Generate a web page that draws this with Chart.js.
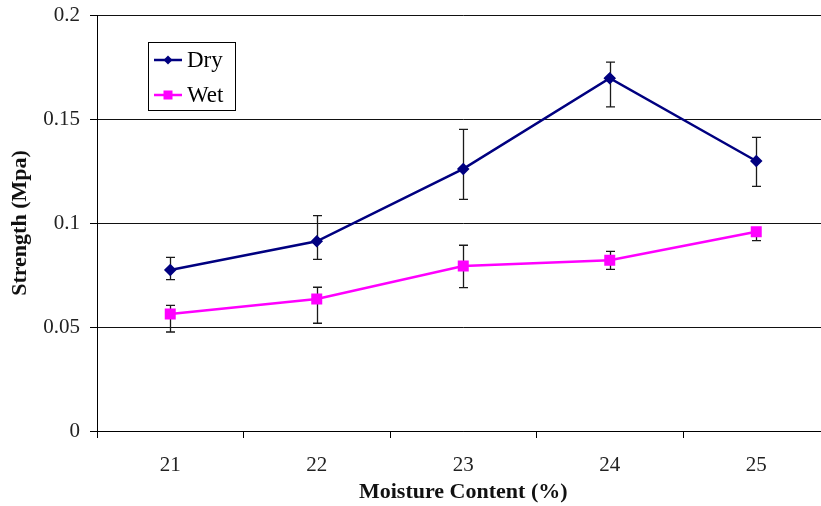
<!DOCTYPE html>
<html>
<head>
<meta charset="utf-8">
<script src="https://cdn.jsdelivr.net/npm/chart.js@4/dist/chart.umd.min.js"></script>
<style>
  html, body { margin: 0; padding: 0; background: #fff; overflow: hidden; }
  #wrap { width: 821px; height: 506px; overflow: hidden; position: relative; }
  canvas { display: block; }
</style>
</head>
<body>
<div id="wrap"><canvas id="c" width="838" height="506"></canvas></div>
<script>
const categories = ['21', '22', '23', '24', '25'];
const dryMean  = [0.0774, 0.0912, 0.1260, 0.1696, 0.1298];
const dryUpper = [0.0835, 0.1035, 0.1450, 0.1773, 0.1412];
const dryLower = [0.0728, 0.0825, 0.1114, 0.1558, 0.1176];
const wetMean  = [0.0563, 0.0635, 0.0793, 0.0821, 0.0958];
const wetUpper = [0.0604, 0.0691, 0.0893, 0.0864, 0.0972];
const wetLower = [0.0476, 0.0518, 0.0689, 0.0777, 0.0915];
const yTicks = [0, 0.05, 0.1, 0.15, 0.2];

const SERIF = '"Liberation Serif", "Times New Roman", serif';

const errorBars = {
  id: 'errorBars',
  beforeDatasetsDraw(chart) {
    const ctx = chart.ctx;
    const x = chart.scales.x, y = chart.scales.y;
    const sets = [[dryUpper, dryLower], [wetUpper, wetLower]];
    ctx.save();
    ctx.strokeStyle = '#1a1a1a';
    ctx.lineWidth = 1.3;
    sets.forEach(([up, lo]) => {
      categories.forEach((c, i) => {
        const px = Math.round(x.getPixelForValue(i)) + 0.5;
        const pu = y.getPixelForValue(up[i]);
        const pl = y.getPixelForValue(lo[i]);
        ctx.beginPath();
        ctx.moveTo(px, pu); ctx.lineTo(px, pl);
        ctx.moveTo(px - 4.5, pu); ctx.lineTo(px + 4.5, pu);
        ctx.moveTo(px - 4.5, pl); ctx.lineTo(px + 4.5, pl);
        ctx.stroke();
      });
    });
    ctx.restore();
  }
};

const boxLegend = {
  id: 'boxLegend',
  afterDraw(chart) {
    const ctx = chart.ctx;
    ctx.save();
    ctx.fillStyle = '#fff';
    ctx.fillRect(148, 42, 88, 69);
    ctx.strokeStyle = '#000';
    ctx.lineWidth = 1;
    ctx.strokeRect(148.5, 42.5, 87, 68);
    const items = [
      { label: chart.data.datasets[0].label, color: '#000080', y: 60, style: 'diamond' },
      { label: chart.data.datasets[1].label, color: '#FF00FF', y: 95, style: 'square' }
    ];
    items.forEach(it => {
      ctx.strokeStyle = it.color;
      ctx.lineWidth = 2.5;
      ctx.beginPath();
      ctx.moveTo(154, it.y); ctx.lineTo(182, it.y);
      ctx.stroke();
      ctx.fillStyle = it.color;
      if (it.style === 'diamond') {
        ctx.beginPath();
        ctx.moveTo(168, it.y - 4.5); ctx.lineTo(172.5, it.y);
        ctx.lineTo(168, it.y + 4.5); ctx.lineTo(163.5, it.y);
        ctx.closePath(); ctx.fill();
      } else {
        ctx.fillRect(163.5, it.y - 4.5, 9, 9);
      }
      ctx.fillStyle = '#000';
      ctx.font = '23px ' + SERIF;
      ctx.textBaseline = 'middle';
      ctx.textAlign = 'left';
      ctx.fillText(it.label, 187, it.y + 1);
    });
    ctx.restore();
  }
};

new Chart(document.getElementById('c'), {
  type: 'line',
  data: {
    labels: categories,
    datasets: [
      {
        label: 'Dry',
        data: dryMean,
        borderColor: '#000080',
        backgroundColor: '#000080',
        borderWidth: 2.5,
        pointStyle: 'rectRot',
        pointRadius: 4.5,
        pointHoverRadius: 4.5,
        tension: 0
      },
      {
        label: 'Wet',
        data: wetMean,
        borderColor: '#FF00FF',
        backgroundColor: '#FF00FF',
        borderWidth: 2.5,
        pointStyle: 'rect',
        pointRadius: 6,
        pointHoverRadius: 6,
        tension: 0
      }
    ]
  },
  options: {
    responsive: false,
    animation: false,
    events: [],
    layout: { padding: { left: 0, right: 3, top: 15, bottom: 0 } },
    plugins: {
      legend: { display: false },
      tooltip: { enabled: false }
    },
    scales: {
      x: {
        type: 'category',
        offset: true,
        grid: {
          offset: true,
          drawOnChartArea: false,
          drawTicks: true,
          tickLength: 7,
          color: '#000',
          lineWidth: 1
        },
        border: { color: '#000', width: 1 },
        ticks: {
          font: { family: SERIF, size: 21 },
          color: '#222',
          padding: 15,
          maxRotation: 0
        },
        title: {
          display: true,
          text: 'Moisture Content (%)',
          font: { family: SERIF, size: 22, weight: 'bold', lineHeight: 1 },
          color: '#111',
          padding: { top: 0, bottom: 3 }
        },
        afterFit(scale) { scale.height = 75; scale.paddingLeft = 0; scale.paddingRight = 0; }
      },
      y: {
        min: 0,
        max: 0.2,
        afterBuildTicks(scale) { scale.ticks = yTicks.map(v => ({ value: v })); },
        grid: {
          color: '#111',
          lineWidth: 1,
          tickLength: 7,
          tickColor: '#000'
        },
        border: { color: '#000', width: 1 },
        ticks: {
          font: { family: SERIF, size: 21 },
          color: '#222',
          padding: 10,
          callback: v => String(v)
        },
        title: {
          display: true,
          text: 'Strength (Mpa)',
          font: { family: SERIF, size: 22, weight: 'bold', lineHeight: 1 },
          color: '#111',
          padding: { top: 9, bottom: 0 }
        },
        afterFit(scale) { scale.width = 97; scale.paddingTop = 0; scale.paddingBottom = 0; }
      }
    }
  },
  plugins: [errorBars, boxLegend]
});
</script>
</body>
</html>
